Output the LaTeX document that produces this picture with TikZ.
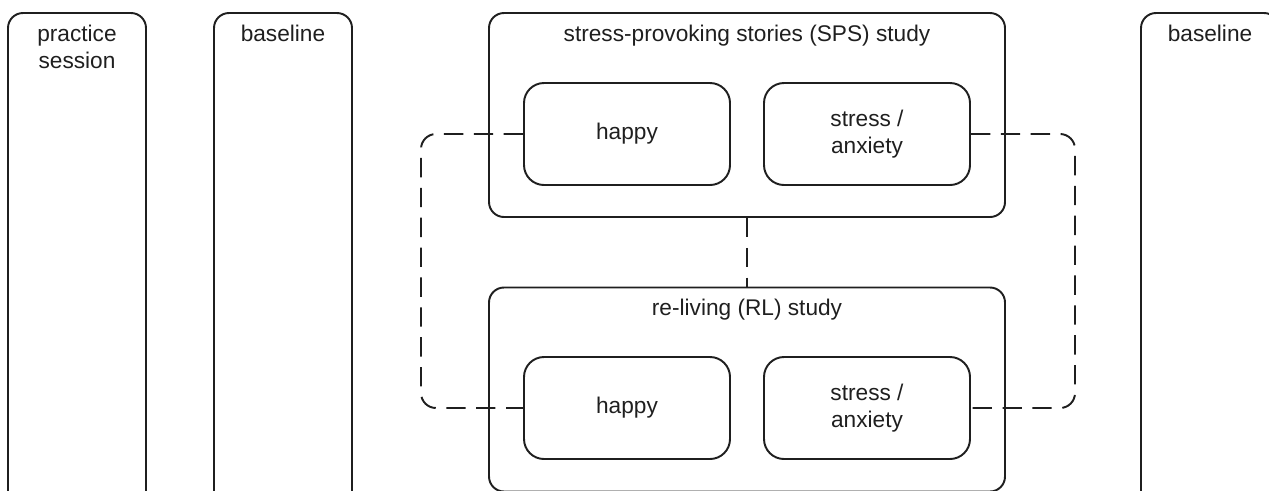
\documentclass[tikz,border=0pt]{standalone}
\usepackage{fontspec}
\setmainfont{Liberation Sans}
\usetikzlibrary{positioning,
                calc}

\begin{document}
\begin{tikzpicture}[line width=1.1pt, color=black!88,
                    font=\fontsize{12.9}{15.4}\selectfont,
                    column/.style={draw, rounded corners=0.3cm, minimum width=2.76cm, minimum height=10.2cm},
                    study/.style={draw, rounded corners=0.3cm, minimum width=10.32cm, minimum height=4.08cm},
                    cond/.style={draw, rounded corners=0.4cm, minimum width=4.12cm, minimum height=2.04cm, align=center},
                    heading/.style={inner sep=0pt, align=center},
                    link/.style={dash pattern=on 11pt off 6pt, rounded corners=0.3cm}
                    ]

    \clip (0,0) rectangle (25.38,-9.8);

    % SIDE COLUMNS %
    \foreach \x/\id/\txt in {1.54/prac/{practice\\session}, 5.66/baseA/baseline, 24.2/baseB/baseline}{
    \node[column] (\id) at (\x,-5.36) {};
    \node[heading, below=0.24cm of \id.north] (\id T) {\txt};
    }

    % STUDIES %
    \node[study] (sps) at (14.94,-2.3) {};
    \node[heading, below=0.24cm of sps.north] (spsT) {stress-provoking stories (SPS) study};
    \node[study] (rl) at (14.94,-7.79) {};
    \node[heading, below=0.24cm of rl.north] (rlT) {re-living (RL) study};

    \foreach \s/\y in {sps/-2.68, rl/-8.16}{
    \node[cond] (\s H) at (12.54,\y) {happy};
    \node[cond] (\s S) at (17.34,\y) {stress /\\anxiety};
    }

    % DASHED LINKS %
    \coordinate (lft) at (8.42,0);
    \coordinate (rgt) at (21.5,0);
    \draw[link] (spsH.west) -- (spsH.west -| lft) -- (rlH.west -| lft) -- (rlH.west);
    \draw[link] (spsS.east) -- (spsS.east -| rgt) -- (rlS.east -| rgt) -- (rlS.east);
    \draw[link] (sps.south) -- (rl.north);
\end{tikzpicture}
\end{document}
